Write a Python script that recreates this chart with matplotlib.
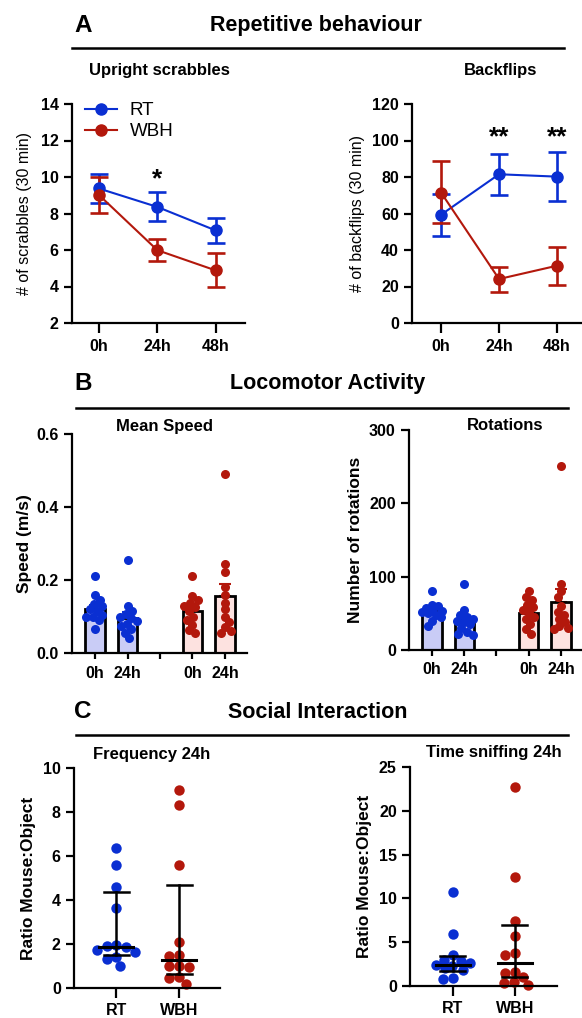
import matplotlib
matplotlib.use("Agg")
import matplotlib.pyplot as plt
from matplotlib.lines import Line2D
import matplotlib.ticker as mticker
import numpy as np

plt.rcParams['font.family'] = ['Liberation Sans', 'DejaVu Sans']
plt.rcParams['axes.linewidth'] = 1.6

BLUE = '#0a2fd2'
RED = '#b3180c'
BLUE_FILL = '#c9ccf6'
RED_FILL = '#fde2e0'

# ---------------- data ----------------
time_labels = ['0h', '24h', '48h']

# A - upright scrabbles (mean, lower, upper of error bar)
scrab_rt = [9.37, 8.36, 7.07]
scrab_rt_lo = [8.56, 7.58, 6.37]
scrab_rt_hi = [10.17, 9.18, 7.74]
scrab_wbh = [9.02, 5.99, 4.88]
scrab_wbh_lo = [8.01, 5.37, 3.96]
scrab_wbh_hi = [10.02, 6.59, 5.82]

# A - backflips
flip_rt = [59.3, 81.5, 80.2]
flip_rt_lo = [47.4, 70.2, 66.9]
flip_rt_hi = [70.8, 92.6, 93.6]
flip_wbh = [71.5, 24.1, 31.4]
flip_wbh_lo = [54.7, 17.0, 20.6]
flip_wbh_hi = [89.0, 30.6, 41.9]

# B - groups: RT 0h, RT 24h, (gap), WBH 0h, WBH 24h
bar_labels = ['0h', '24h', '', '0h', '24h']
speed_mean = [0.121, 0.096, 0.114, 0.157]
speed_sem = [0.011, 0.017, 0.013, 0.033]
speed_rt0 = [0.21, 0.158, 0.145, 0.135, 0.128, 0.12, 0.115, 0.105, 0.10, 0.098, 0.09, 0.065]
speed_rt24 = [0.255, 0.128, 0.115, 0.108, 0.10, 0.095, 0.088, 0.08, 0.075, 0.065, 0.055, 0.04]
speed_wbh0 = [0.21, 0.155, 0.145, 0.138, 0.13, 0.125, 0.115, 0.10, 0.09, 0.078, 0.062, 0.055]
speed_wbh24 = [0.49, 0.245, 0.222, 0.18, 0.158, 0.138, 0.12, 0.10, 0.085, 0.07, 0.06, 0.055]

rot_mean = [54.5, 41.0, 50.0, 66.0]
rot_sem = [3.5, 5.5, 5.0, 17.0]
rot_rt0 = [80, 62, 60, 57, 55, 53, 52, 50, 48, 45, 40, 33]
rot_rt24 = [90, 55, 48, 45, 42, 40, 38, 35, 30, 25, 22, 20]
rot_wbh0 = [80, 72, 68, 62, 58, 55, 50, 45, 42, 35, 28, 22]
rot_wbh24 = [251, 90, 80, 72, 60, 52, 48, 42, 38, 33, 30, 28]

# C - social interaction
group_labels = ['RT', 'WBH']
freq_rt = [6.35, 5.6, 4.6, 3.65, 1.95, 1.9, 1.85, 1.75, 1.65, 1.4, 1.3, 1.0]
freq_wbh = [9.0, 8.3, 5.6, 2.1, 1.5, 1.45, 1.0, 1.0, 0.95, 0.5, 0.45, 0.2]
freq_median = [1.87, 1.29]
freq_q1 = [1.5, 0.65]
freq_q3 = [4.35, 4.7]

sniff_rt = [10.7, 5.9, 3.5, 3.0, 2.8, 2.6, 2.4, 2.3, 2.1, 1.8, 0.9, 0.8]
sniff_wbh = [22.7, 12.5, 7.4, 5.7, 3.8, 3.5, 1.6, 1.5, 1.0, 0.5, 0.3, 0.1]
sniff_median = [2.36, 2.62]
sniff_q1 = [1.67, 1.03]
sniff_q3 = [3.38, 7.0]

W, H = 582, 1018
fig = plt.figure(figsize=(W / 100, H / 100), dpi=100)

TICK_FS = 11.5
SUB_FS = 12


def box(l, r, t, b):
    return [l / W, 1 - b / H, (r - l) / W, (b - t) / H]


def style(ax, xlen=7):
    for s in ['top', 'right']:
        ax.spines[s].set_visible(False)
    ax.tick_params(width=1.6, length=6, labelsize=TICK_FS)
    ax.tick_params(axis='x', length=xlen, pad=4.5)
    for t in ax.get_xticklabels() + ax.get_yticklabels():
        t.set_fontweight('bold')


def swarm_x(ax, xc, vals, diam_px, max_off=30.0):
    # simple beeswarm in pixel space; offsets limited to +-max_off,
    # points may overlap when there is no room (like Prism)
    fig.canvas.draw()
    tr = ax.transData
    ppu = tr.transform((xc + 1, 0))[0] - tr.transform((xc, 0))[0]
    ys = [tr.transform((xc, v))[1] for v in vals]
    order = np.argsort(ys)[::-1]
    grid = np.linspace(-max_off, max_off, 61)
    grid = grid[np.argsort(np.abs(grid), kind='stable')]
    placed = []
    offs = np.zeros(len(vals))
    for i in order:
        y = ys[i]
        best, best_d = 0.0, -1.0
        for c in grid:
            if placed:
                dmin = min(np.hypot(c - dxj, y - yj) for (dxj, yj) in placed)
            else:
                dmin = np.inf
            if dmin >= diam_px:
                best = c
                break
            if dmin > best_d + 0.5:
                best, best_d = c, dmin
        offs[i] = best
        placed.append((best, y))
    return xc + offs / ppu


def header(letter, title, y, x_title, x0, x1, yline):
    fig.text(83 / W, 1 - y / H, letter, fontsize=17.5, fontweight='bold', ha='center', va='center')
    fig.text(x_title / W, 1 - y / H, title, fontsize=15.5, fontweight='bold', ha='center', va='center')
    fig.add_artist(Line2D([x0 / W, x1 / W], [1 - yline / H, 1 - yline / H],
                          color='black', lw=1.8, transform=fig.transFigure))


def subtitle(x, y, s):
    fig.text(x / W, 1 - y / H, s, fontsize=SUB_FS, fontweight='bold', ha='center', va='center')


# ---------------- A ----------------
header('A', 'Repetitive behaviour', 25, 316, 72, 564, 48)
subtitle(159, 70, 'Upright scrabbles')
subtitle(501, 70, 'Backflips')

xt = np.arange(len(time_labels))


def line_panel(ax, rt, rlo, rhi, wbh, wlo, whi, legend=False):
    handles = []
    for m, lo, hi, c, lab in [(rt, rlo, rhi, BLUE, 'RT'), (wbh, wlo, whi, RED, 'WBH')]:
        m = np.array(m)
        err = [m - np.array(lo), np.array(hi) - m]
        ax.errorbar(xt, m, yerr=err, color=c, marker='o', ms=8, lw=1.5,
                    elinewidth=1.9, capsize=6.5, capthick=1.9)
        handles.append(Line2D([], [], color=c, marker='o', ms=8, lw=1.5, label=lab))
    ax.set_xticks(xt)
    ax.set_xticklabels(time_labels)
    if legend:
        ax.legend(handles=handles, loc='upper left', bbox_to_anchor=(0.01, 1.06), frameon=False,
                  fontsize=13.5, handlelength=1.7, handletextpad=0.7, labelspacing=0.2,
                  borderaxespad=0.2)


ax = fig.add_axes(box(72, 245, 104, 323))
line_panel(ax, scrab_rt, scrab_rt_lo, scrab_rt_hi, scrab_wbh, scrab_wbh_lo, scrab_wbh_hi, legend=True)
ax.set_xlim(-0.46, 2.5)
ax.set_ylim(2, 14)
ax.set_yticks([2, 4, 6, 8, 10, 12, 14])
ax.set_ylabel('# of scrabbles (30 min)', fontsize=11.5, labelpad=6)
ax.text(1, 9.9, '*', fontsize=19, fontweight='bold', ha='center', va='center')
style(ax)

ax = fig.add_axes(box(412, 582, 104, 323))
line_panel(ax, flip_rt, flip_rt_lo, flip_rt_hi, flip_wbh, flip_wbh_lo, flip_wbh_hi)
ax.set_xlim(-0.5, 2.43)
ax.set_ylim(0, 120)
ax.set_yticks(range(0, 121, 20))
ax.set_ylabel('# of backflips (30 min)', fontsize=11.5, labelpad=5)
for xi in [1, 2]:
    ax.text(xi, 102, '**', fontsize=19, fontweight='bold', ha='center', va='center')
style(ax)

# ---------------- B ----------------
header('B', 'Locomotor Activity', 383, 328, 76, 568, 408)
bx = [0, 1, 3, 4]
bfill = [BLUE_FILL, BLUE_FILL, RED_FILL, RED_FILL]
bpt = [BLUE, BLUE, RED, RED]


def bar_panel(ax, means, sems, groups, ylim, yticks, ylabel, xlim, lpad):
    ax.set_xlim(*xlim)
    ax.set_ylim(*ylim)
    for x, m, s, f, c in zip(bx, means, sems, bfill, bpt):
        ax.errorbar([x], [m], yerr=[[0], [s]], color=c, lw=0, elinewidth=1.5,
                    capsize=4, capthick=1.5, zorder=1)
        ax.bar(x, m, width=0.6, color=f, edgecolor='black', linewidth=2, zorder=2)
    for x, vals, c in zip(bx, groups, bpt):
        xs = swarm_x(ax, x, vals, 6.5, max_off=10)
        ax.plot(xs, vals, 'o', color=c, ms=6.5, mew=0, zorder=3, clip_on=False)
    ax.set_xticks(range(5))
    ax.set_xticklabels(bar_labels)
    ax.set_yticks(yticks)
    ax.set_ylabel(ylabel, fontsize=12.5, fontweight='bold', labelpad=lpad)
    style(ax, xlen=4.5)


ax = fig.add_axes(box(72, 247, 434, 653))
subtitle(164, 426, 'Mean Speed')
bar_panel(ax, speed_mean, speed_sem, [speed_rt0, speed_rt24, speed_wbh0, speed_wbh24],
          (0, 0.6), [0.0, 0.2, 0.4, 0.6], 'Speed (m/s)', (-0.71, 4.68), 3)
ax.yaxis.set_major_formatter(mticker.FormatStrFormatter('%.1f'))
for t in ax.get_yticklabels():
    t.set_fontweight('bold')

ax = fig.add_axes(box(409, 582, 430, 650))
subtitle(505, 426, 'Rotations')
bar_panel(ax, rot_mean, rot_sem, [rot_rt0, rot_rt24, rot_wbh0, rot_wbh24],
          (0, 300), [0, 100, 200, 300], 'Number of rotations', (-0.71, 4.65), 4)

# ---------------- C ----------------
header('C', 'Social Interaction', 712, 318, 76, 568, 735)


def dot_panel(ax, rt, wbh, med, q1, q3, ylim, yticks, xlim):
    ax.set_xlim(*xlim)
    ax.set_ylim(*ylim)
    for x, vals, c in zip([0, 1], [rt, wbh], [BLUE, RED]):
        xs = swarm_x(ax, x, vals, 9.5, max_off=24)
        ax.plot(xs, vals, 'o', color=c, ms=7.5, mew=0, zorder=2, clip_on=False)
    for x, m, lo, hi in zip([0, 1], med, q1, q3):
        ax.plot([x, x], [lo, hi], color='black', lw=1.8, zorder=3)
        ax.plot([x - 0.2, x + 0.2], [lo, lo], color='black', lw=1.8, zorder=3)
        ax.plot([x - 0.2, x + 0.2], [hi, hi], color='black', lw=1.8, zorder=3)
        ax.plot([x - 0.27, x + 0.27], [m, m], color='black', lw=2.2, zorder=3)
    ax.set_xticks([0, 1])
    ax.set_xticklabels(group_labels)
    ax.set_yticks(yticks)
    ax.set_ylabel('Ratio Mouse:Object', fontsize=12.5, fontweight='bold', labelpad=5)
    style(ax)
    ax.tick_params(axis='x', pad=3.5)


ax = fig.add_axes(box(74, 220, 768, 988))
subtitle(152, 754, 'Frequency 24h')
dot_panel(ax, freq_rt, freq_wbh, freq_median, freq_q1, freq_q3,
          (0, 10), [0, 2, 4, 6, 8, 10], (-0.67, 1.65))

ax = fig.add_axes(box(410, 557, 767, 986))
subtitle(494, 753, 'Time sniffing 24h')
dot_panel(ax, sniff_rt, sniff_wbh, sniff_median, sniff_q1, sniff_q3,
          (0, 25), [0, 5, 10, 15, 20, 25], (-0.69, 1.68))

fig.savefig('out.png', dpi=100)
